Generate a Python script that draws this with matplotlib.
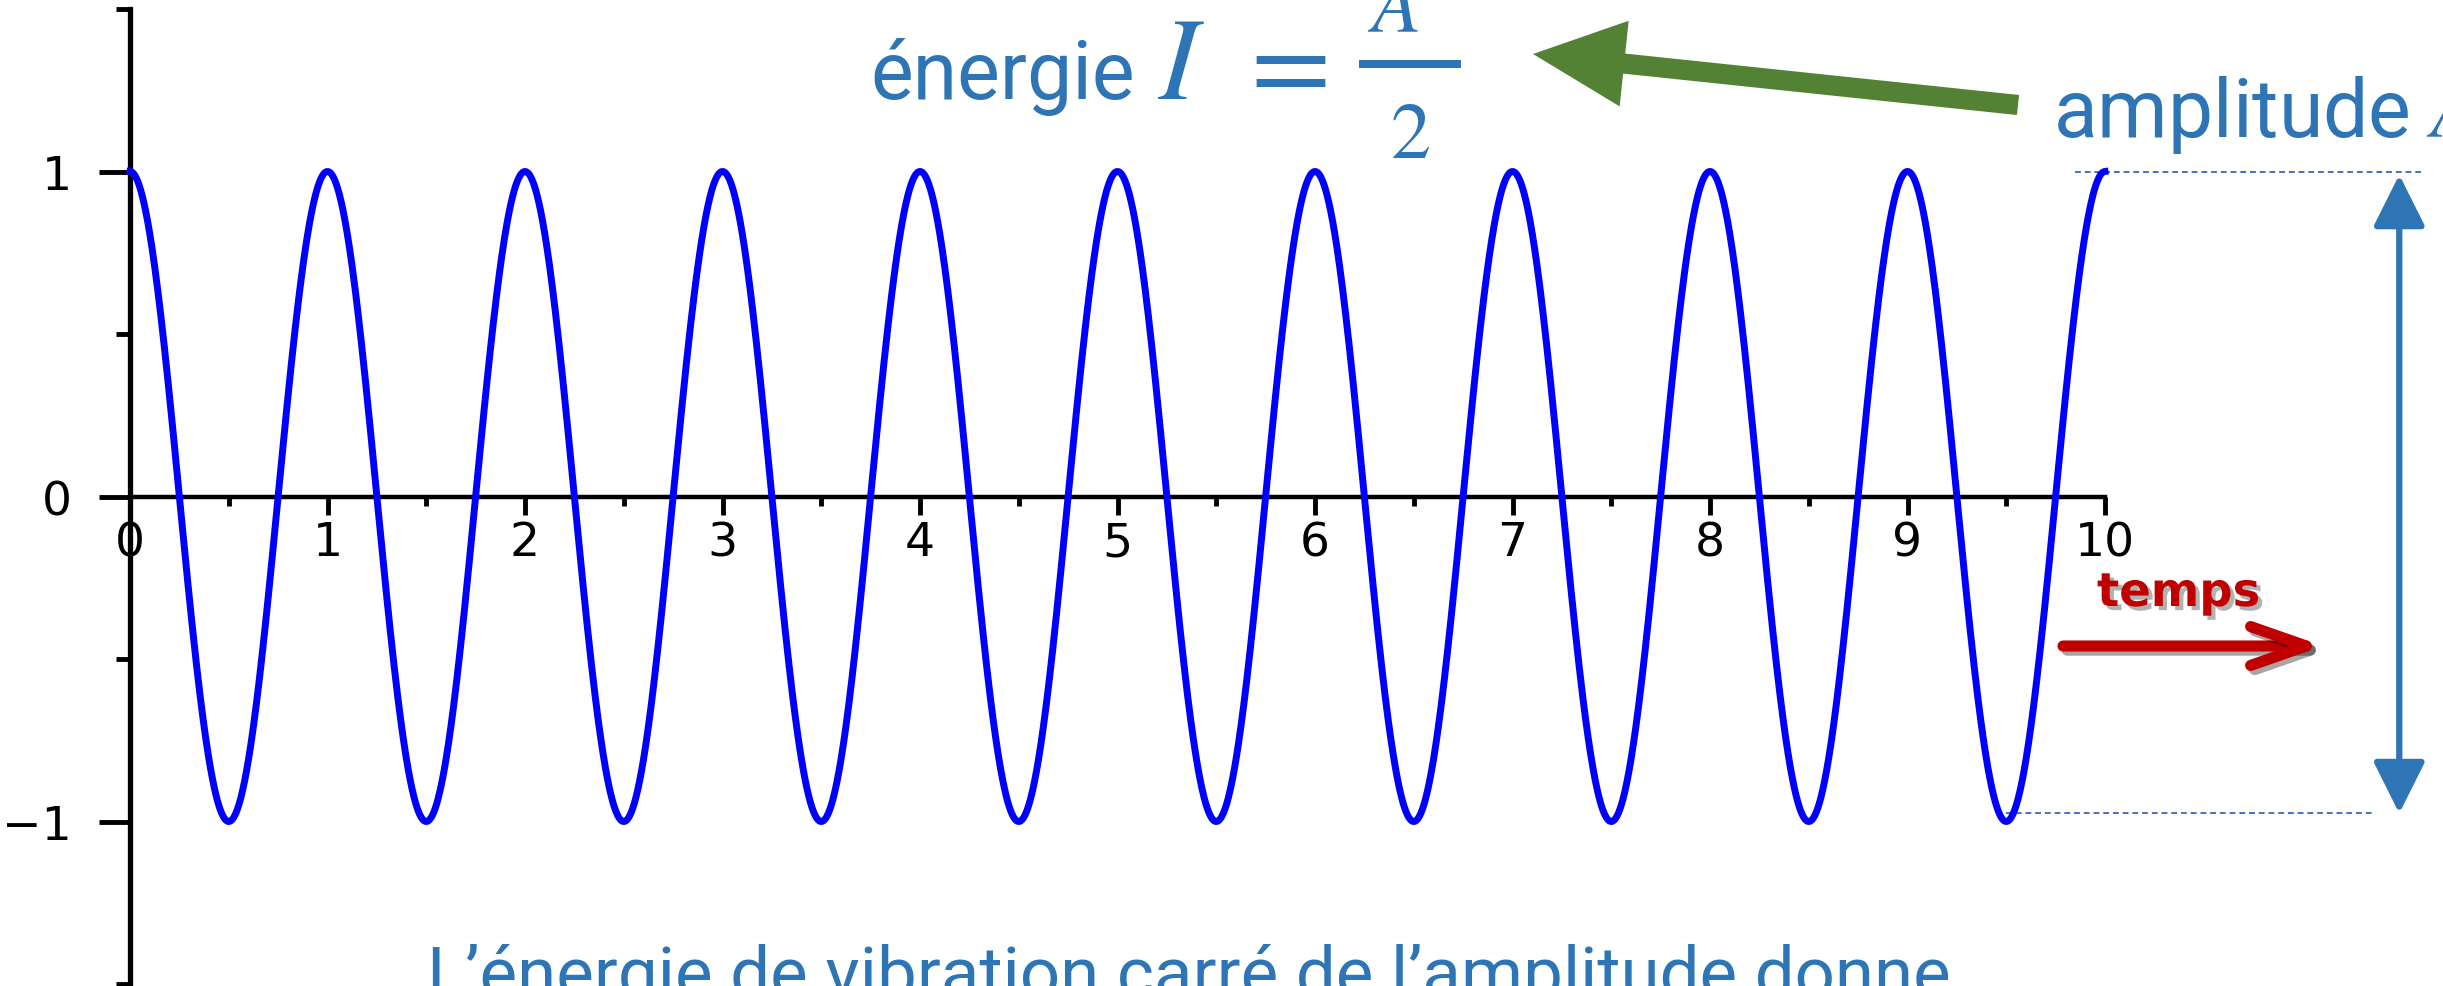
import matplotlib
import matplotlib.pyplot as plt
import matplotlib.patheffects as pe
import numpy as np
from matplotlib.lines import Line2D
from matplotlib.patches import FancyArrowPatch

matplotlib.use('Agg')

# oscillation parameters
amplitude = 1.0
frequency = 1.0  # oscillations per unit of time
t_end = 10

x_ticks = [0, 1, 2, 3, 4, 5, 6, 7, 8, 9, 10]
x_minor = [0.5, 1.5, 2.5, 3.5, 4.5, 5.5, 6.5, 7.5, 8.5, 9.5]
y_ticks = [-1, 0, 1]
y_tick_labels = ['\u22121', '0', '1']
y_minor = [-1.5, -0.5, 0.5, 1.5]

title_word = 'énergie'
formula_lhs = r'$I$'
formula_eq = r'$=$'
formula_num = r'$A$'
formula_den = r'$2$'
amp_label = r'amplitude $A$'
time_label = 'temps'
caption = 'L\u2019énergie de vibration carré de l\u2019amplitude donne'

BLUE_TXT = '#2E75B6'
GREEN = '#548235'
RED = '#C00000'
TEXT_FONT = ['Roboto', 'DejaVu Sans']

plt.rcParams['font.family'] = ['DejaVu Sans']
plt.rcParams['mathtext.fontset'] = 'stix'

W, H = 2443, 987
fig = plt.figure(figsize=(W / 100, H / 100), dpi=100)


def fxy(px, py):
    # pixel position (from top-left) -> figure fraction
    return px / W, 1 - py / H


ax = fig.add_axes([130 / W, 1 - 985 / H, (2105 - 130) / W, (985 - 10) / H])

t = np.linspace(0, t_end, 4001)
y = amplitude * np.cos(2 * np.pi * frequency * t)
ax.plot(t, y, color='#0000FF', lw=5, clip_on=False, zorder=3)

ax.set_xlim(0, t_end)
ax.set_ylim(-1.5, 1.5)
ax.patch.set_visible(False)
for s in ['top', 'right']:
    ax.spines[s].set_visible(False)
ax.spines['bottom'].set_position(('data', 0))
ax.spines['bottom'].set_linewidth(3.2)
ax.spines['left'].set_linewidth(3.8)

ax.set_xticks(x_ticks)
ax.set_xticks(x_minor, minor=True)
ax.set_yticks(y_ticks, y_tick_labels)
ax.set_yticks(y_minor, minor=True)
ax.tick_params(axis='x', which='major', length=13, width=3.5, pad=4, labelsize=34, direction='out')
ax.tick_params(axis='x', which='minor', length=6.5, width=3.5, direction='out')
ax.tick_params(axis='y', which='major', length=22, width=3.5, pad=20, labelsize=34, direction='out')
ax.tick_params(axis='y', which='minor', length=10, width=3.5, direction='out')

# amplitude guides and double arrow
ax.plot([9.85, 11.6], [1.0, 1.0], ls=(0, (3, 2)), color='#4472C4', lw=1.4, clip_on=False)
ax.plot([9.5, 11.35], [-0.975, -0.975], ls=(0, (3, 2)), color='#4472C4', lw=1.4, clip_on=False)
amp_arrow = FancyArrowPatch((11.49, 0.99), (11.49, -0.975), transform=ax.transData,
                            arrowstyle='<|-|>,head_length=32,head_width=16', mutation_scale=1,
                            lw=4.5, color=BLUE_TXT, shrinkA=0, shrinkB=0, clip_on=False)
ax.add_artist(amp_arrow)

# green arrow pointing from the amplitude label to the energy formula
green = FancyArrowPatch(fxy(2018, 106), fxy(1533, 55), transform=fig.transFigure,
                        arrowstyle='simple,head_length=66,head_width=62,tail_width=14.5',
                        mutation_scale=1, color=GREEN, lw=0, shrinkA=0, shrinkB=0)
fig.add_artist(green)

# time arrow with shadow
red = FancyArrowPatch(fxy(2063, 647), fxy(2323, 647), transform=fig.transFigure,
                      arrowstyle='->,head_length=40,head_width=14', mutation_scale=1,
                      lw=8, color=RED, shrinkA=0, shrinkB=0, capstyle='round', joinstyle='round',
                      path_effects=[pe.SimpleLineShadow(offset=(3, -3), shadow_color='black', alpha=0.35),
                                    pe.Normal()])
fig.add_artist(red)
fig.text(*fxy(2097, 607), time_label, fontsize=33.5, fontweight='bold', family='DejaVu Sans',
         color=RED, ha='left', va='baseline',
         path_effects=[pe.withSimplePatchShadow(offset=(3, -3), shadow_rgbFace='black', alpha=0.3)])

# energy formula: I = A / 2
fig.text(*fxy(870, 99), title_word, fontsize=58, family=TEXT_FONT, color=BLUE_TXT,
         ha='left', va='baseline')
fig.text(*fxy(1158, 99), formula_lhs, fontsize=84, color=BLUE_TXT, ha='left', va='baseline')
fig.text(*fxy(1281, 99), formula_eq, fontsize=84, color=BLUE_TXT, ha='center', va='baseline')
fig.text(*fxy(1393, 32), formula_num, fontsize=58, color=BLUE_TXT, ha='center', va='baseline')
fig.text(*fxy(1410, 158), formula_den, fontsize=58, color=BLUE_TXT, ha='center', va='baseline')
bar_x0, bar_y = fxy(1359, 65)
bar_x1, _ = fxy(1461, 65)
fig.add_artist(Line2D([bar_x0, bar_x1], [bar_y, bar_y], transform=fig.transFigure,
                      color=BLUE_TXT, lw=5.8, solid_capstyle='butt'))

fig.text(*fxy(2053, 137), amp_label, fontsize=58, family=TEXT_FONT, color=BLUE_TXT,
         ha='left', va='baseline')
fig.text(*fxy(427, 997), caption, fontsize=51, family=TEXT_FONT, color=BLUE_TXT,
         ha='left', va='baseline')

fig.savefig('out.png', dpi=100)
plt.close(fig)
